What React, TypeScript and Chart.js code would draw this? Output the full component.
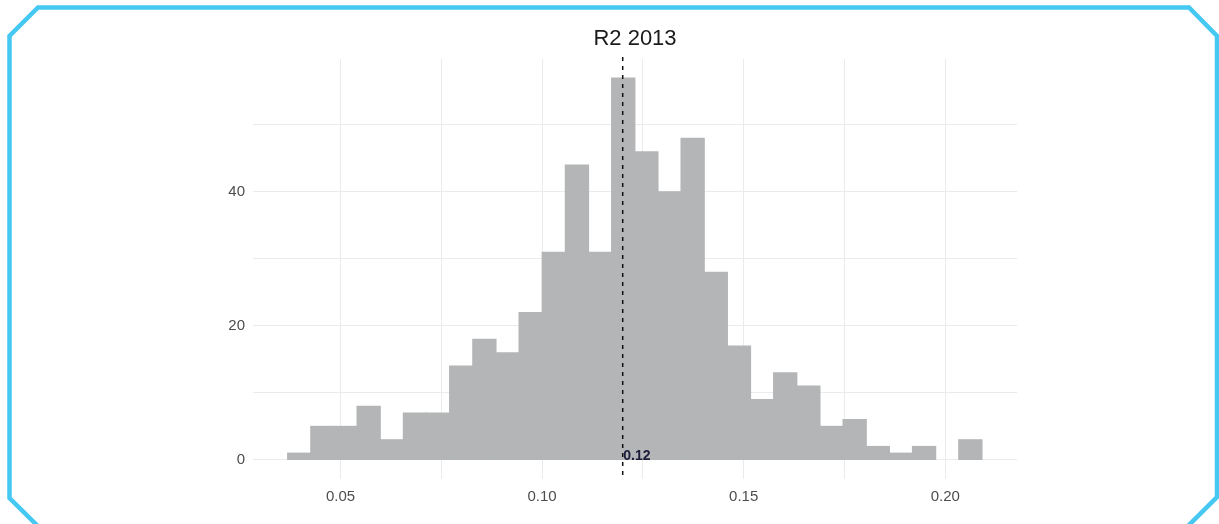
import React, { useEffect, useRef } from "react";
import { Chart, registerables } from "chart.js";

Chart.register(...registerables);

// ---- data ----
const chartTitle = "R2 2013";
const binStart = 0.0369; // left edge of first histogram bin
const binWidth = 0.00574;
const counts = [1, 5, 5, 8, 3, 7, 7, 14, 18, 16, 22, 31, 44, 31, 57, 46, 40, 48, 28, 17, 9, 13, 11, 5, 6, 2, 1, 2, 0, 3];
const xTicks = [0.05, 0.075, 0.1, 0.125, 0.15, 0.175, 0.2];
const xLabelTicks = [0.05, 0.1, 0.15, 0.2];
const yTicks = [0, 10, 20, 30, 40, 50];
const yLabelTicks = [0, 20, 40];
const meanValue = 0.12;
const meanLabel = "0.12";

const FONT = '"Liberation Sans", Arial, sans-serif';

const overlayPlugin = {
  id: "overlay",
  afterDatasetsDraw(chart: any) {
    const { ctx, chartArea, scales } = chart;
    const x = scales.x.getPixelForValue(meanValue);
    ctx.save();
    ctx.strokeStyle = "#111111";
    ctx.lineWidth = 1.5;
    ctx.setLineDash([4, 5]);
    ctx.beginPath();
    ctx.moveTo(x, chartArea.top - 2);
    ctx.lineTo(x, chartArea.bottom);
    ctx.stroke();
    ctx.setLineDash([]);
    ctx.font = `bold 14px ${FONT}`;
    ctx.fillStyle = "#1b1b3a";
    ctx.textAlign = "left";
    ctx.textBaseline = "middle";
    ctx.fillText(meanLabel, x + 0.5, scales.y.getPixelForValue(0) - 4);
    ctx.restore();
  },
  afterDraw(chart: any) {
    const { ctx, chartArea } = chart;
    ctx.save();
    // title
    ctx.font = `22px ${FONT}`;
    ctx.fillStyle = "#1a1a1a";
    ctx.textAlign = "center";
    ctx.textBaseline = "alphabetic";
    ctx.fillText(chartTitle, (chartArea.left + chartArea.right) / 2, 45);
    // frame
    ctx.strokeStyle = "#45c8f2";
    ctx.lineWidth = 4.5;
    ctx.lineJoin = "miter";
    ctx.beginPath();
    ctx.moveTo(36 + 24, 524 + 24);
    ctx.lineTo(9.5, 498);
    ctx.lineTo(9.5, 36);
    ctx.lineTo(38, 7.5);
    ctx.lineTo(1189, 7.5);
    ctx.lineTo(1217, 36);
    ctx.lineTo(1217, 497);
    ctx.lineTo(1190 - 24, 524 + 24);
    ctx.stroke();
    ctx.restore();
  },
};

export default function App() {
  const ref = useRef<HTMLCanvasElement | null>(null);
  useEffect(() => {
    if (!ref.current) return;
    const points = counts.map((c, i) => ({ x: binStart + binWidth * (i + 0.5), y: c }));
    const chart = new Chart(ref.current, {
      type: "bar",
      data: {
        datasets: [
          {
            data: points as any,
            backgroundColor: "rgb(179,181,182)",
            borderWidth: 0,
            barPercentage: 1,
            categoryPercentage: 1,
            inflateAmount: (c: any) => (c.raw && c.raw.y > 0 ? 0.6 : 0),
          } as any,
        ],
      },
      options: {
        animation: false,
        responsive: false,
        devicePixelRatio: 1,
        layout: { padding: { left: 0, right: 202, top: 59, bottom: 0 } },
        plugins: { legend: { display: false }, tooltip: { enabled: false }, title: { display: false } },
        scales: {
          x: {
            type: "linear",
            offset: false,
            min: 0.0283,
            max: 0.2178,
            afterBuildTicks: (s: any) => {
              s.ticks = xTicks.map((v) => ({ value: v }));
            },
            afterFit: (s: any) => {
              s.height = 45;
            },
            grid: { color: "#ebebeb", lineWidth: 1, drawTicks: false, offset: false },
            border: { display: false },
            ticks: {
              autoSkip: false,
              maxRotation: 0,
              padding: 9,
              color: "#4d4d4d",
              font: { family: FONT, size: 15 },
              callback: (v: any) => (xLabelTicks.some((t) => Math.abs(t - v) < 1e-9) ? Number(v).toFixed(2) : ""),
            },
          },
          y: {
            type: "linear",
            min: -2.85,
            max: 59.85,
            afterBuildTicks: (s: any) => {
              s.ticks = yTicks.map((v) => ({ value: v }));
            },
            afterFit: (s: any) => {
              s.width = 253;
            },
            grid: { color: "#ebebeb", lineWidth: 1, drawTicks: false },
            border: { display: false },
            ticks: {
              autoSkip: false,
              padding: 8,
              color: "#4d4d4d",
              font: { family: FONT, size: 15 },
              callback: (v: any) => (yLabelTicks.includes(Number(v)) ? String(v) : ""),
            },
          },
        },
      },
      plugins: [overlayPlugin],
    });
    return () => chart.destroy();
  }, []);
  return (
    <div style={{ position: "absolute", left: 0, top: 0, width: 1219, height: 524, background: "#ffffff" }}>
      <canvas ref={ref} width={1219} height={524} style={{ display: "block" }} />
    </div>
  );
}
